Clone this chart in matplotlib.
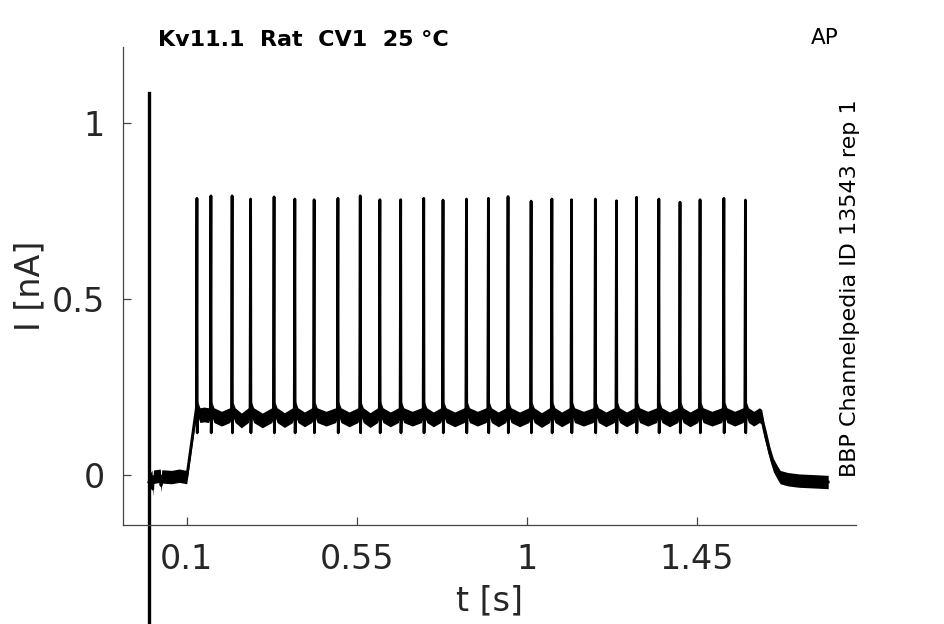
import numpy as np
import matplotlib
matplotlib.use("Agg")
from matplotlib import pyplot as plt

# spike times [s] and peak currents [nA]
spike_t = [0.127, 0.164, 0.220, 0.269, 0.331, 0.386, 0.437, 0.500, 0.559,
           0.611, 0.666, 0.727, 0.778, 0.840, 0.898, 0.950, 1.011, 1.066,
           1.118, 1.181, 1.237, 1.290, 1.349, 1.405, 1.458, 1.521, 1.578]
spike_peak = [0.786, 0.793, 0.793, 0.784, 0.790, 0.784, 0.782, 0.786, 0.793,
              0.782, 0.782, 0.786, 0.781, 0.784, 0.786, 0.791, 0.778, 0.784,
              0.782, 0.784, 0.779, 0.789, 0.784, 0.775, 0.782, 0.786, 0.781]
# level between spikes (trough) [nA]
trough = [0.172, 0.160, 0.155, 0.155, 0.156, 0.158, 0.160, 0.158, 0.156,
          0.158, 0.160, 0.158, 0.158, 0.160, 0.158, 0.158, 0.156, 0.158,
          0.160, 0.158, 0.158, 0.160, 0.158, 0.158, 0.160, 0.160]

# holding before the step and the rise
pre_t = [0.0, 0.008, 0.010, 0.012, 0.03, 0.032, 0.034, 0.06, 0.08, 0.1, 0.127]
pre_i = [-0.02, -0.005, -0.04, -0.005, -0.002, -0.03, -0.004, -0.006, -0.002,
         -0.006, 0.19]
# decay after the step
post_t = [1.600, 1.615, 1.621, 1.627, 1.634, 1.643, 1.652, 1.662, 1.670,
          1.690, 1.720, 1.760, 1.797]
post_i = [0.160, 0.170, 0.165, 0.130, 0.100, 0.060, 0.028, 0.008, -0.006,
          -0.012, -0.016, -0.018, -0.020]

title = "Kv11.1  Rat  CV1  25 °C"
tag = "AP"
side = "BBP Channelpedia ID 13543 rep 1"

# build the trace polyline
tt = list(pre_t[:-1])
ii = list(pre_i[:-1])
for k, (ts, pk) in enumerate(zip(spike_t, spike_peak)):
    if k == 0:
        tt += [ts - 0.0015, ts]
        ii += [0.19, pk]
    else:
        tt += [ts - 0.006, ts - 0.0015, ts]
        ii += [0.170, 0.185, pk]
    tt += [ts + 0.0008, ts + 0.002, ts + 0.008]
    ii += [0.12, 0.188, 0.170]
    if k < len(trough):
        tt.append((ts + spike_t[k + 1]) / 2)
        ii.append(trough[k])
tt += post_t
ii += post_i
tt = np.array(tt)
ii = np.array(ii)
hw = np.where((tt > 0.11) & (tt < 1.64), 0.021, 0.019)

plt.rcParams['font.family'] = ['DejaVu Sans']
fig = plt.figure(figsize=(9.45, 6.24), dpi=100)
ax = fig.add_axes([0.130, 0.1587, 0.776, 0.766])

ax.fill_between(tt, ii - hw, ii + hw, color='black', lw=0)
ax.plot(tt, ii, color='black', lw=2.0)
ax.plot([0, 0], [1.085, -0.50], color='black', lw=2.4, clip_on=False)

ax.set_xlim(-0.069, 1.871)
ax.set_ylim(-0.142, 1.216)
ax.set_xticks([0.1, 0.55, 1, 1.45])
ax.set_xticklabels(["0.1", "0.55", "1", "1.45"])
ax.set_yticks([0, 0.5, 1])
ax.set_yticklabels(["0", "0.5", "1"])
for s in ['top', 'right']:
    ax.spines[s].set_visible(False)
for s in ['left', 'bottom']:
    ax.spines[s].set_color('#444444')
    ax.spines[s].set_linewidth(0.9)
ax.tick_params(direction='in', length=6, width=0.9, color='#444444',
               labelsize=24, labelcolor='#262626', pad=13)
ax.set_xlabel("t [s]", fontsize=24, color='#262626', labelpad=6)
ax.set_ylabel("I [nA]", fontsize=24, color='#262626', labelpad=4)

fig.text(158 / 945, 1 - 40 / 624, title, fontsize=16, fontweight='bold',
         ha='left', va='center')
fig.text(825 / 945, 1 - 38 / 624, tag, fontsize=15.5, ha='center', va='center')
fig.text(850 / 945, 1 - 288 / 624, side, fontsize=16, rotation=90,
         ha='center', va='center')

fig.savefig("out.png", dpi=100)
